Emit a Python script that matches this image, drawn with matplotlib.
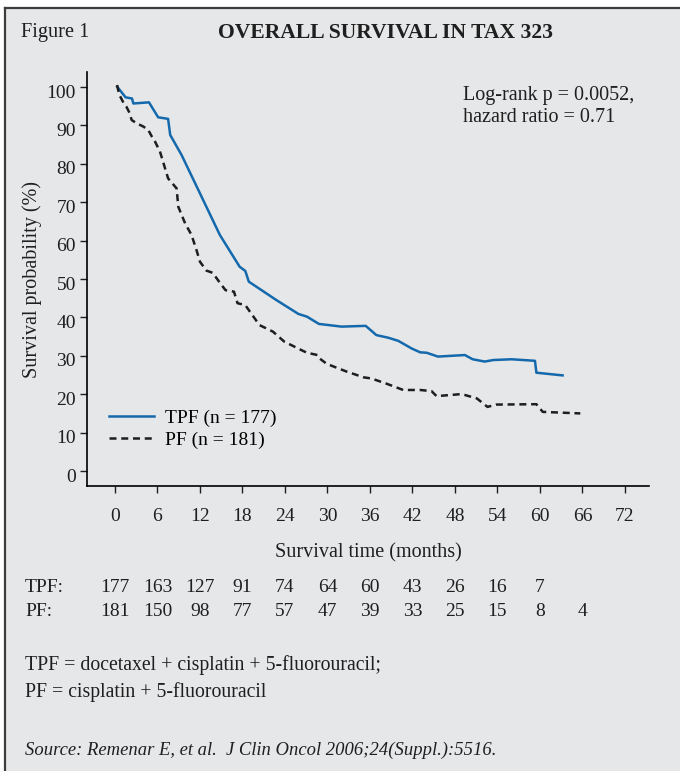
import matplotlib
matplotlib.use("Agg")
from matplotlib import pyplot as plt
from matplotlib.lines import Line2D
from matplotlib.patches import Rectangle
from matplotlib.transforms import ScaledTranslation

# survival curves (months, %)
tpf_t = [0.3, 1.5, 2.4, 2.6, 4.8, 6.1, 7.5, 7.8, 9.4, 12.0, 14.8, 17.6, 18.4, 18.9,
         22.8, 25.9, 27.1, 28.8, 32.0, 35.4, 36.9, 38.6, 40.0, 41.9, 43.1, 44.0,
         45.6, 49.4, 50.5, 52.2, 53.4, 56.0, 59.3, 59.5, 63.2]
tpf_s = [100.1, 97.3, 97.0, 95.7, 96.0, 92.1, 91.7, 87.5, 82.3, 72.3, 61.5, 53.2, 52.1, 49.3,
         44.5, 40.9, 40.2, 38.3, 37.6, 37.8, 35.4, 34.7, 33.9, 31.9, 30.9, 30.8,
         29.8, 30.2, 29.1, 28.5, 28.9, 29.1, 28.7, 25.6, 24.9]

pf_t = [0.3, 0.6, 1.2, 1.6, 2.1, 2.35, 3.1, 4.0, 4.7, 5.2, 5.65, 6.35, 7.5, 8.7, 8.94,
        9.9, 10.8, 11.5, 12.0, 12.9, 13.8, 14.7, 15.6, 16.8, 17.3, 18.4, 19.2, 20.4,
        22.3, 23.9, 26.3, 27.1, 28.6, 28.9, 29.9, 32.7, 35.1, 36.2, 38.4, 40.7, 43.1,
        44.7, 45.4, 48.7, 49.4, 51.1, 52.6, 53.8, 59.5, 60.4, 65.7]
pf_s = [100.5, 98.0, 95.9, 94.9, 93.1, 91.4, 90.5, 89.7, 88.8, 87.1, 85.8, 83.2, 76.2, 73.6, 68.8,
        64.5, 61.5, 57.6, 54.5, 52.2, 51.6, 49.3, 47.1, 46.7, 43.7, 43.2, 41.1, 38.0,
        36.3, 33.7, 31.5, 30.8, 30.2, 29.3, 27.9, 25.9, 24.4, 24.1, 22.7, 21.1, 21.1,
        20.8, 19.5, 20.0, 19.8, 18.9, 16.7, 17.3, 17.4, 15.4, 15.0]

x_ticks = [0, 6, 12, 18, 24, 30, 36, 42, 48, 54, 60, 66, 72]
y_ticks = [0, 10, 20, 30, 40, 50, 60, 70, 80, 90, 100]

# numbers at risk
risk_tpf = [177, 163, 127, 91, 74, 64, 60, 43, 26, 16, 7]
risk_pf = [181, 150, 98, 77, 57, 47, 39, 33, 25, 15, 8, 4]

W, H = 680, 771
bg = '#e6e7e8'
blue = '#1469ad'
ink = '#1f1f1f'
plt.rcParams['font.family'] = ['Liberation Serif', 'DejaVu Serif']

fig = plt.figure(figsize=(W / 100, H / 100), dpi=100, facecolor='white')

# gray panel with a dark frame on top and left
fig.patches.append(Rectangle((5 / W, 0), 1, 1 - 8 / H, transform=fig.transFigure,
                             facecolor=bg, edgecolor='none', zorder=-5))
fig.lines.append(Line2D([5 / W, 5 / W], [0, 1 - 8 / H], transform=fig.transFigure,
                        color='#3c3c3c', lw=1.6, zorder=-4))
fig.lines.append(Line2D([5 / W, 1], [1 - 8 / H, 1 - 8 / H], transform=fig.transFigure,
                        color='#3c3c3c', lw=1.6, zorder=-4))


def px(x, y):
    return x / W, 1 - y / H


ax = fig.add_axes([87 / W, 1 - 486 / H, (649 - 87) / W, (486 - 72) / H])
ax.set_facecolor('none')

ax.plot(tpf_t, tpf_s, '-', color=blue, lw=1.8, label='TPF (n = 177)')
ax.plot(pf_t, pf_s, color='#1e1e1e', lw=1.8, linestyle=(0, (2.8, 1.9)), label='PF (n = 181)')

ax.set_xlim(-3.95, 75.4)
ax.set_ylim(-3.9, 103.9)
ax.set_xticks(x_ticks)
ax.set_yticks(y_ticks)
ax.spines['top'].set_visible(False)
ax.spines['right'].set_visible(False)
ax.spines['left'].set_linewidth(1.2)
ax.spines['bottom'].set_linewidth(1.2)
ax.tick_params(axis='both', direction='out', length=5, width=1.0, labelsize=14, colors=ink)
ax.tick_params(axis='x', pad=11)
ax.tick_params(axis='y', pad=3)
for lab in ax.get_yticklabels():
    lab.set_transform(lab.get_transform() + ScaledTranslation(0, -3 / 72, fig.dpi_scale_trans))

ax.set_ylabel('Survival probability (%)', fontsize=14.5, labelpad=3.5, color=ink)
ax.set_xlabel('Survival time (months)', fontsize=14.5, labelpad=13, color=ink)

ax.legend(loc='upper left', bbox_to_anchor=(0.025, 0.205), frameon=False, fontsize=14,
          handlelength=2.3, handletextpad=0.6, labelspacing=0.25, borderaxespad=0)

ax.text(0.669, 0.944, 'Log-rank p = 0.0052,', transform=ax.transAxes, fontsize=14.5,
        ha='left', va='center', color=ink)
ax.text(0.669, 0.891, 'hazard ratio = 0.71', transform=ax.transAxes, fontsize=14.5,
        ha='left', va='center', color=ink)

# header
fig.text(*px(21, 33), 'Figure 1', fontsize=14.7, ha='left', va='center', color=ink)
fig.text(*px(385, 33), 'OVERALL SURVIVAL IN TAX 323', fontsize=15.6, fontweight='bold',
         ha='center', va='center', color=ink)

# numbers at risk, aligned with the x ticks
fig.text(*px(25, 588), 'TPF:', fontsize=14, ha='left', va='center', color=ink)
fig.text(*px(25, 611), 'PF:', fontsize=14, ha='left', va='center', color=ink)
y_tpf = 1 - 588 / H
y_pf = 1 - 611 / H
to_fig = fig.transFigure.inverted()
for i, n in enumerate(risk_tpf):
    x_fig = to_fig.transform(ax.transData.transform((x_ticks[i], 0)))[0]
    fig.text(x_fig, y_tpf, str(n), fontsize=14, ha='center', va='center', color=ink)
for i, n in enumerate(risk_pf):
    x_fig = to_fig.transform(ax.transData.transform((x_ticks[i], 0)))[0]
    fig.text(x_fig, y_pf, str(n), fontsize=14, ha='center', va='center', color=ink)

# footnotes
fig.text(*px(25, 665), 'TPF = docetaxel + cisplatin + 5-fluorouracil;', fontsize=14.2,
         ha='left', va='center', color=ink)
fig.text(*px(25, 692), 'PF = cisplatin + 5-fluorouracil', fontsize=14.2,
         ha='left', va='center', color=ink)
fig.text(*px(25, 750), 'Source: Remenar E, et al.  J Clin Oncol 2006;24(Suppl.):5516.',
         fontsize=13.4, style='italic', ha='left', va='center', color=ink)

fig.savefig('out.png', dpi=100, facecolor='white')
